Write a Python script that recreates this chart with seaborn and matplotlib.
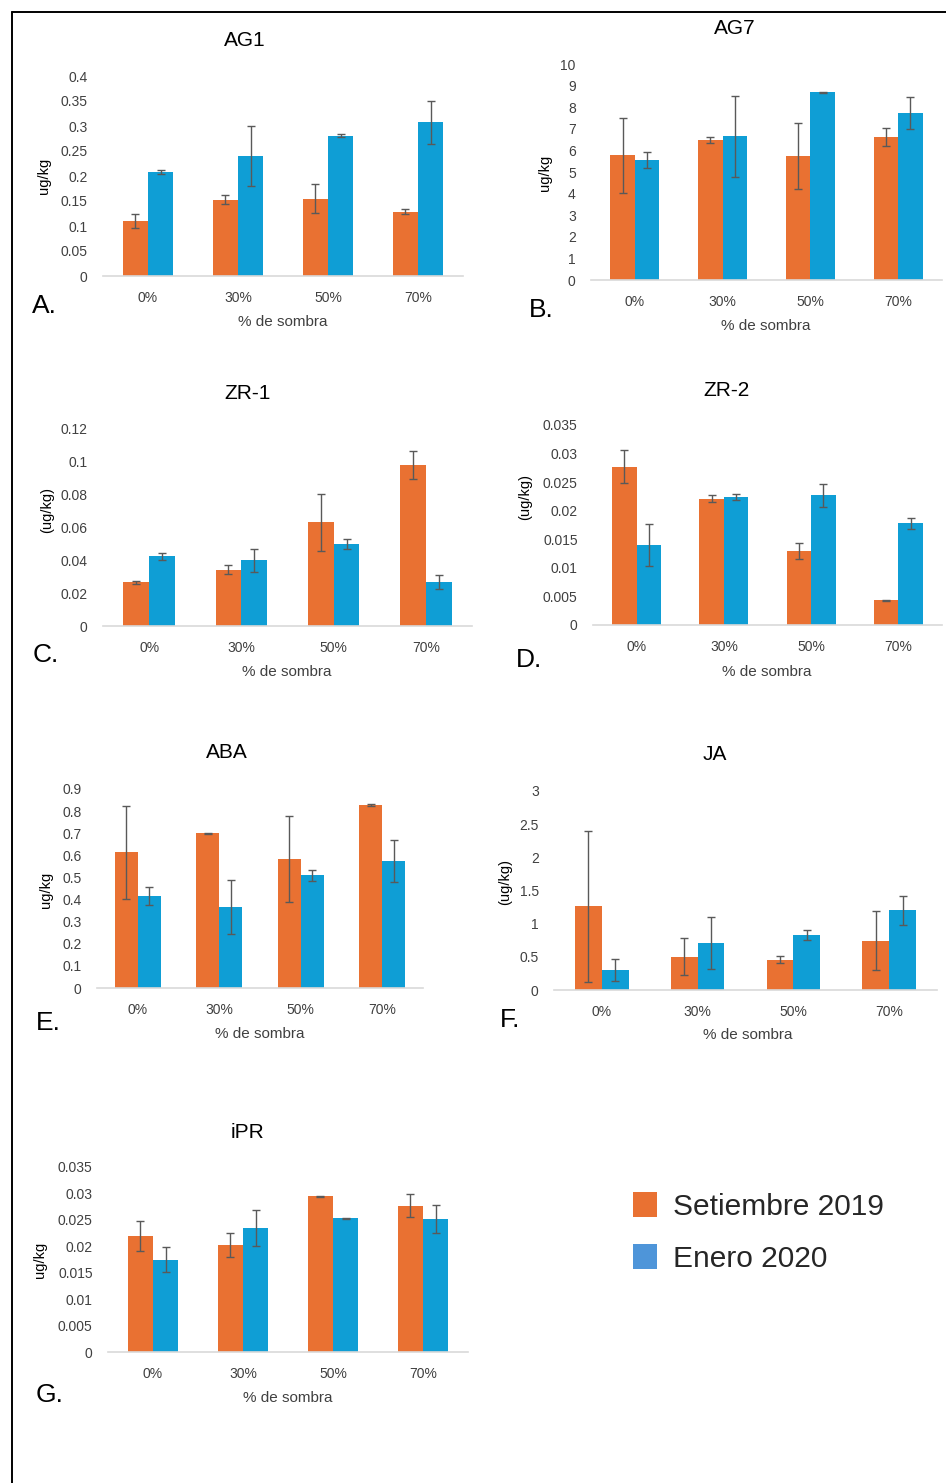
import numpy as np
import pandas as pd
import matplotlib
matplotlib.use("Agg")
import matplotlib.pyplot as plt
from matplotlib.lines import Line2D
from matplotlib.patches import Patch
import seaborn as sns

# ---------------- data ----------------
shades = ["0%", "30%", "50%", "70%"]
seasons = ["Setiembre 2019", "Enero 2020"]

ag1_sep = [0.110, 0.153, 0.155, 0.129]
ag1_sep_err = [0.014, 0.009, 0.029, 0.005]
ag1_ene = [0.209, 0.240, 0.281, 0.308]
ag1_ene_err = [0.004, 0.060, 0.002, 0.043]

ag7_sep = [5.77, 6.48, 5.73, 6.62]
ag7_sep_err = [1.75, 0.15, 1.54, 0.43]
ag7_ene = [5.56, 6.65, 8.69, 7.73]
ag7_ene_err = [0.38, 1.88, 0.02, 0.73]

zr1_sep = [0.0266, 0.0344, 0.0632, 0.0981]
zr1_sep_err = [0.0010, 0.0028, 0.0174, 0.0083]
zr1_ene = [0.0425, 0.0399, 0.0498, 0.0267]
zr1_ene_err = [0.0020, 0.0069, 0.0030, 0.0043]

zr2_sep = [0.0277, 0.0221, 0.0130, 0.0043]
zr2_sep_err = [0.0029, 0.0006, 0.0014, 0.0001]
zr2_ene = [0.0140, 0.0224, 0.0227, 0.0178]
zr2_ene_err = [0.0037, 0.0005, 0.0020, 0.0010]

aba_sep = [0.613, 0.699, 0.583, 0.828]
aba_sep_err = [0.209, 0.003, 0.196, 0.003]
aba_ene = [0.416, 0.366, 0.509, 0.574]
aba_ene_err = [0.040, 0.123, 0.026, 0.095]

ja_sep = [1.264, 0.501, 0.456, 0.742]
ja_sep_err = [1.140, 0.280, 0.055, 0.446]
ja_ene = [0.296, 0.707, 0.828, 1.204]
ja_ene_err = [0.165, 0.396, 0.070, 0.220]

ipr_sep = [0.0219, 0.0202, 0.0295, 0.0277]
ipr_sep_err = [0.0028, 0.0023, 0.0001, 0.0022]
ipr_ene = [0.0175, 0.0235, 0.0253, 0.0252]
ipr_ene_err = [0.0023, 0.0034, 0.0001, 0.0027]

# ---------------- style ----------------
sns.set_theme(style="white")
plt.rcParams["font.family"] = ["Liberation Sans", "DejaVu Sans"]

ORANGE = "#E97132"
BLUE = "#0F9ED5"
LEG_BLUE = "#4E95D9"
ERR = "#595959"
TXT = "#404040"

W, H = 946, 1483
fig = plt.figure(figsize=(W / 100, H / 100), dpi=100)
fig.patch.set_facecolor("white")


def fx(x):
    return x / W


def fy(y):
    return 1 - y / H


def panel(box, sep, sep_err, ene, ene_err, ymax, step, title, tpos,
          ylabel, ylpos, xlpos, letter, lpos):
    x0, y0, x1, y1 = box
    ax = fig.add_axes([fx(x0), fy(y1), (x1 - x0) / W, (y1 - y0) / H])
    df = pd.DataFrame({
        "shade": shades * 2,
        "season": [seasons[0]] * 4 + [seasons[1]] * 4,
        "value": list(sep) + list(ene),
    })
    sns.barplot(data=df, x="shade", y="value", hue="season", order=shades,
                hue_order=seasons, palette=[ORANGE, BLUE], width=0.56,
                errorbar=None, legend=False, ax=ax, saturation=1,
                linewidth=0)
    for cont, errs in zip(ax.containers, [sep_err, ene_err]):
        xs = [b.get_x() + b.get_width() / 2 for b in cont]
        ys = [b.get_height() for b in cont]
        ax.errorbar(xs, ys, yerr=errs, fmt="none", ecolor=ERR,
                    elinewidth=1.0, capsize=3, capthick=1.0)
    ax.set_xlim(-0.5, 3.5)
    ax.set_ylim(0, ymax)
    ticks = np.arange(0, ymax + step / 2, step)
    ax.set_yticks(ticks)
    ax.set_yticklabels([f"{round(t, 4):g}" for t in ticks])
    ax.set_xlabel("")
    ax.set_ylabel("")
    for s in ["top", "right", "left"]:
        ax.spines[s].set_visible(False)
    ax.spines["bottom"].set_color("#D9D9D9")
    ax.spines["bottom"].set_linewidth(1.2)
    ax.tick_params(axis="both", length=0, colors=TXT, labelsize=10)
    ax.tick_params(axis="y", pad=11)
    ax.tick_params(axis="x", pad=11)
    ax.set_facecolor("none")
    fig.text(fx(tpos[0]), fy(tpos[1]), title, ha="center", va="center",
             fontsize=15, color="black")
    fig.text(fx(ylpos[0]), fy(ylpos[1]), ylabel, ha="center", va="center",
             rotation=90, fontsize=10.5, color="black")
    fig.text(fx(xlpos[0]), fy(xlpos[1]), "% de sombra", ha="center",
             va="center", fontsize=11, color=TXT)
    fig.text(fx(lpos[0]), fy(lpos[1]), letter, ha="center", va="center",
             fontsize=19, color="black")
    return ax


panel((103, 76, 463, 276), ag1_sep, ag1_sep_err, ag1_ene, ag1_ene_err,
      0.4, 0.05, "AG1", (245, 41), "ug/kg", (44, 176), (283, 322),
      "A.", (44, 306))
panel((591, 64, 942, 280), ag7_sep, ag7_sep_err, ag7_ene, ag7_ene_err,
      10, 1, "AG7", (735, 29), "ug/kg", (545, 173), (766, 326),
      "B.", (541, 310))
panel((103, 429, 472, 626), zr1_sep, zr1_sep_err, zr1_ene, zr1_ene_err,
      0.12, 0.02, "ZR-1", (248, 393), "(ug/kg)", (47, 510), (287, 672),
      "C.", (46, 655))
panel((593, 425, 942, 625), zr2_sep, zr2_sep_err, zr2_ene, zr2_ene_err,
      0.035, 0.005, "ZR-2", (726, 390), "(ug/kg)", (525, 497), (767, 672),
      "D.", (529, 660))
panel((97, 789, 423, 988), aba_sep, aba_sep_err, aba_ene, aba_ene_err,
      0.9, 0.1, "ABA", (227, 753), "ug/kg", (46, 890), (260, 1034),
      "E.", (48, 1023))
panel((554, 791, 937, 990), ja_sep, ja_sep_err, ja_ene, ja_ene_err,
      3, 0.5, "JA", (715, 755), "(ug/kg)", (505, 882), (748, 1035),
      "F.", (510, 1020))
panel((108, 1167, 468, 1352), ipr_sep, ipr_sep_err, ipr_ene, ipr_ene_err,
      0.035, 0.005, "iPR", (247, 1132), "ug/kg", (40, 1260), (288, 1398),
      "G.", (50, 1395))

# legend
handles = [Patch(facecolor=ORANGE, edgecolor="none", label=seasons[0]),
           Patch(facecolor=LEG_BLUE, edgecolor="none", label=seasons[1])]
fig.legend(handles=handles, loc="upper left",
           bbox_to_anchor=(fx(606), fy(1165)), frameon=False, fontsize=21.5,
           handlelength=0.8, handleheight=0.9, handletextpad=0.55,
           labelspacing=0.8)

# outer frame
fig.add_artist(Line2D([fx(12), 1], [fy(12), fy(12)], color="black", lw=1.4))
fig.add_artist(Line2D([fx(12), fx(12)], [fy(12), 0], color="black", lw=1.4))

fig.savefig("out.png", dpi=100, facecolor="white")
